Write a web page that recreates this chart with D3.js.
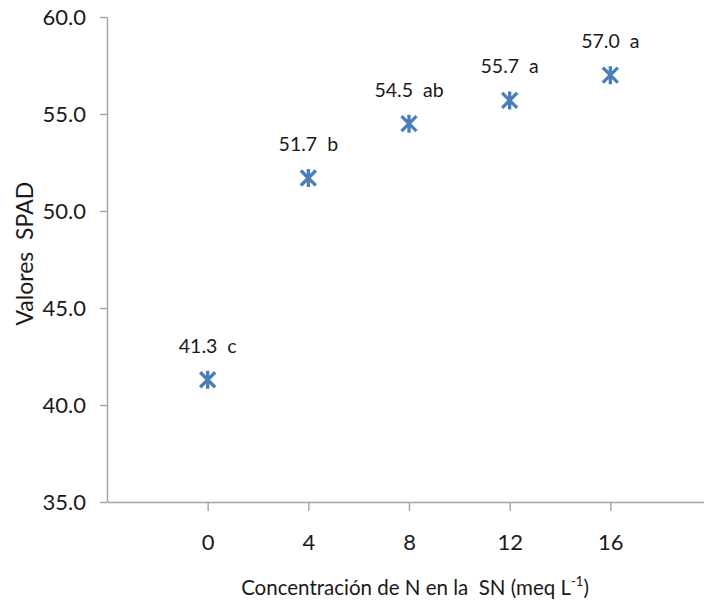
<!DOCTYPE html>
<html>
<head>
<meta charset="utf-8">
<script src="https://cdn.jsdelivr.net/npm/d3@7"></script>
<style>
  body { margin: 0; background: #fff; }
</style>
</head>
<body>
<div id="chart"></div>
<script>

// Chart data
var doses = [0, 4, 8, 12, 16];
var spadValues = [41.3, 51.7, 54.5, 55.7, 57.0];
var groupLetters = ['c', 'b', 'ab', 'a', 'a'];
var yTicks = [35, 40, 45, 50, 55, 60];
var yTitle = 'Valores  SPAD';
var xTitle = 'Concentración de N en la  SN (meq L';

// Exposed variables
var attrs = {
  svgWidth: 704,
  svgHeight: 607,
  marginTop: 17,
  marginBottom: 105,
  marginLeft: 107,
  marginRight: -7,
  defaultFont: 'Lato, "Open Sans", sans-serif',
  textFill: '#1a1a1a',
  axisColor: '#a3a3a3',
  markerColor: '#4a7ebb'
};

//Calculated properties
var calc = {};
calc.chartWidth = attrs.svgWidth - attrs.marginLeft - attrs.marginRight;
calc.chartHeight = attrs.svgHeight - attrs.marginTop - attrs.marginBottom;

//#########################  SCALES  ########################
var scales = {};

scales.x = d3.scaleLinear()
  .domain([-4, 20])
  .range([0, calc.chartWidth]);

scales.y = d3.scaleLinear()
  .domain([35, 60])
  .range([calc.chartHeight, 0]);

//###########################  AXES  ########################
var axes = {};

axes.y = d3.axisLeft(scales.y)
  .tickValues(yTicks)
  .tickFormat(d3.format('.1f'))
  .tickSize(7)
  .tickSizeOuter(0)
  .tickPadding(14);

axes.x = d3.axisBottom(scales.x)
  .tickValues(doses)
  .tickFormat(d3.format('d'))
  .tickSize(9)
  .tickSizeOuter(0)
  .tickPadding(23);

//Drawing containers
var svg = d3.select('#chart').append('svg')
  .attr('width', attrs.svgWidth)
  .attr('height', attrs.svgHeight)
  .attr('font-family', attrs.defaultFont);

var chart = svg.append('g')
  .attr('transform', 'translate(' + attrs.marginLeft + ',' + attrs.marginTop + ')');

//y axis
var yAxisContainer = chart.append('g').call(axes.y);
yAxisContainer.selectAll('text')
  .attr('font-size', 22)
  .attr('font-family', attrs.defaultFont)
  .attr('fill', attrs.textFill);

//x axis
var xAxisContainer = chart.append('g')
  .attr('transform', 'translate(0,' + calc.chartHeight + ')')
  .call(axes.x);
xAxisContainer.selectAll('text')
  .attr('font-size', 22)
  .attr('font-family', attrs.defaultFont)
  .attr('fill', attrs.textFill);

//axis styling
chart.selectAll('.domain, .tick line')
  .attr('stroke', attrs.axisColor)
  .attr('stroke-width', 1.4);

//axis titles
svg.append('text')
  .attr('transform', 'translate(33,' + (attrs.marginTop + scales.y(47.8)) + ') rotate(-90)')
  .attr('text-anchor', 'middle')
  .attr('font-size', 23)
  .attr('fill', attrs.textFill)
  .style('white-space', 'pre')
  .text(yTitle);

var xTitleText = svg.append('text')
  .attr('x', 415)
  .attr('y', 595)
  .attr('text-anchor', 'middle')
  .attr('font-size', 20.5)
  .attr('fill', attrs.textFill)
  .style('white-space', 'pre');
xTitleText.append('tspan').text(xTitle);
xTitleText.append('tspan').attr('font-size', 13).attr('dy', -9).text('-1');
xTitleText.append('tspan').attr('dy', 9).text(')');

//data points
var points = chart.append('g').selectAll('g.point')
  .data(doses.map(function (d, i) {
    return { x: d, y: spadValues[i], letter: groupLetters[i] };
  }))
  .enter().append('g')
  .attr('class', 'point')
  .attr('transform', function (d) {
    return 'translate(' + scales.x(d.x) + ',' + scales.y(d.y) + ')';
  });

//star marker (x plus vertical bar)
points.append('path')
  .attr('d', 'M-7.5,-7.5L7.5,7.5M-7.5,7.5L7.5,-7.5M0,-9L0,9')
  .attr('stroke', attrs.markerColor)
  .attr('stroke-width', 3.3)
  .attr('fill', 'none');

//value labels
points.append('text')
  .attr('y', -27)
  .attr('text-anchor', 'middle')
  .attr('font-size', 19.5)
  .attr('fill', attrs.textFill)
  .style('white-space', 'pre')
  .text(function (d) { return d3.format('.1f')(d.y) + '  ' + d.letter; });

</script>
</body>
</html>
